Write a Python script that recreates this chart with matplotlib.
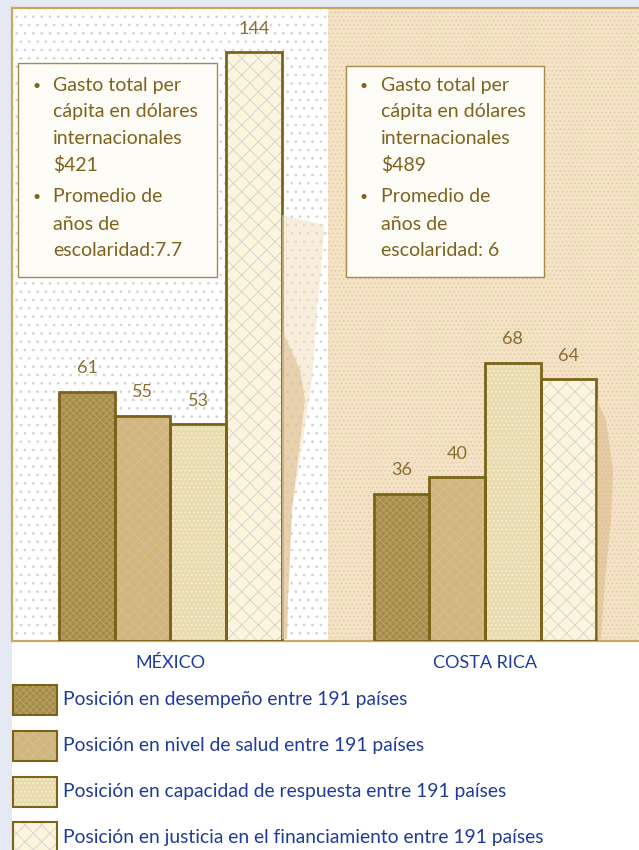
import matplotlib
matplotlib.use("Agg")
import matplotlib.pyplot as plt
from matplotlib.patches import Rectangle, Polygon
import numpy as np

# ---- data ----
countries = ["MÉXICO", "COSTA RICA"]
series_labels = [
    "Posición en desempeño entre 191 países",
    "Posición en nivel de salud entre 191 países",
    "Posición en capacidad de respuesta entre 191 países",
    "Posición en justicia en el financiamiento entre 191 países",
]
desempeno = [61, 36]
salud = [55, 40]
capacidad = [53, 68]
justicia = [144, 64]
box_mexico = ["Gasto total per", "cápita en dólares", "internacionales", "$421",
              "Promedio de", "años de", "escolaridad:7.7"]
box_costa = ["Gasto total per", "cápita en dólares", "internacionales", "$489",
             "Promedio de", "años de", "escolaridad: 6"]

series = [desempeno, salud, capacidad, justicia]
face_colors = ["#a48d4c", "#cdb97c", "#e9dcb2", "#faf5dc"]
hatch_colors = ["#bba565", "#e6b59e", "#f7f1d2", "#d6d2cc"]
hatches = ["xxxxx", "xxx", "....", "xx"]
edge_color = "#7b6418"
value_color = "#8b6d2f"
text_color = "#80621f"
blue = "#1f3c9c"

W, H = 639, 850
plt.rcParams["font.family"] = ["Lato", "DejaVu Sans"]
plt.rcParams["hatch.linewidth"] = 0.6

fig = plt.figure(figsize=(W / 100, H / 100), dpi=100)
fig.patch.set_facecolor("white")

def fx(x):
    return x / W

def fy(y):
    return 1 - y / H

# page-like light blue strips
fig.add_artist(Rectangle((0, 0), fx(12), 1, transform=fig.transFigure,
                         facecolor="#e5e9f3", edgecolor="none", zorder=0))
fig.add_artist(Rectangle((0, fy(8)), 1, 1 - fy(8), transform=fig.transFigure,
                         facecolor="#e5e9f3", edgecolor="none", zorder=0))

ax = fig.add_axes([fx(12), fy(641), fx(627), (641 - 8) / H])
x = np.arange(len(countries))
w = 0.177
xlim = (-0.504, 1.490)
ax.set_xlim(*xlim)
ax.set_ylim(0, 154.8)

# backgrounds
ax.axvspan(xlim[0], 0.5, facecolor="white", edgecolor="#cfcfcf", hatch="..",
           linewidth=0, zorder=0)
ax.axvspan(0.5, xlim[1], facecolor="#f3e3c2", edgecolor="#e5c7b8", hatch="....",
           linewidth=0, zorder=0)

for i, vals in enumerate(series):
    pos = x + (i - 1.5) * w
    ax.bar(pos, vals, w, color=face_colors[i], edgecolor="none", zorder=2)
    ax.bar(pos, vals, w, color="none", edgecolor=hatch_colors[i], hatch=hatches[i],
           linewidth=0, zorder=3)
    ax.bar(pos, vals, w, color="none", edgecolor=edge_color, linewidth=2, zorder=4)
    for p, v in zip(pos, vals):
        ax.annotate(str(v), (p, v), xytext=(0, 17), textcoords="offset points",
                    ha="center", va="center", fontsize=13, color=value_color, zorder=5)

ax.set_xticks(x)
ax.set_xticklabels(countries, fontsize=13, color=blue)
ax.tick_params(axis="x", length=0, pad=10)
ax.set_yticks([])
for s in ax.spines.values():
    s.set_color("#c8a862")
    s.set_linewidth(1.6)
ax.spines["right"].set_visible(False)

# faint shadow artifacts beside the tall bars (decorative)
def poly(pts, color, alpha):
    fig.add_artist(Polygon([(fx(a), fy(b)) for a, b in pts], closed=True,
                           transform=fig.transFigure, facecolor=color,
                           edgecolor="none", alpha=alpha, zorder=1.5))

poly([(282, 215), (324, 225), (322, 260), (318, 300), (312, 380), (303, 440),
      (292, 510), (288, 600), (287, 639), (282, 639)], "#f1dfbd", 0.55)
poly([(282, 330), (300, 370), (305, 400), (299, 450), (292, 510), (288, 600),
      (287, 639), (282, 639)], "#d8b988", 0.55)
poly([(597, 400), (606, 420), (613, 470), (611, 520), (605, 580), (601, 639),
      (597, 639)], "#d9b987", 0.55)

# text boxes
def draw_box(x0, y0, x1, y1, lines, bx, tx):
    fig.add_artist(Rectangle((fx(x0), fy(y1)), fx(x1 - x0), (y1 - y0) / H,
                             transform=fig.transFigure, facecolor="#fdfcf7",
                             edgecolor="#a88a48", linewidth=1, zorder=10))
    ys = [86, 112, 139, 165, 197, 224, 250]
    for k, (ln, yy) in enumerate(zip(lines, ys)):
        if k in (0, 4):
            fig.text(fx(bx), fy(yy), "•", ha="center", va="center", fontsize=10,
                     color=text_color, zorder=11)
        fig.text(fx(tx), fy(yy), ln, ha="left", va="center", fontsize=14,
                 color=text_color, zorder=11)

draw_box(18, 63, 217, 277, box_mexico, 37, 53)
draw_box(346, 66, 544, 277, box_costa, 364, 381)

# legend
leg_y = [700, 746, 792, 837]
for i, (lab, yy) in enumerate(zip(series_labels, leg_y)):
    r = (fx(13), fy(yy + 15)), fx(44), 30 / H
    fig.add_artist(Rectangle(*r, transform=fig.transFigure, facecolor=face_colors[i],
                             edgecolor="none", zorder=10))
    fig.add_artist(Rectangle(*r, transform=fig.transFigure, facecolor="none",
                             edgecolor=hatch_colors[i], hatch=hatches[i], linewidth=0,
                             zorder=11))
    fig.add_artist(Rectangle(*r, transform=fig.transFigure, facecolor="none",
                             edgecolor=edge_color, linewidth=1.5, zorder=12))
    fig.text(fx(63), fy(yy), lab, ha="left", va="center", fontsize=13.9, color=blue)

fig.savefig("out.png", dpi=100)
